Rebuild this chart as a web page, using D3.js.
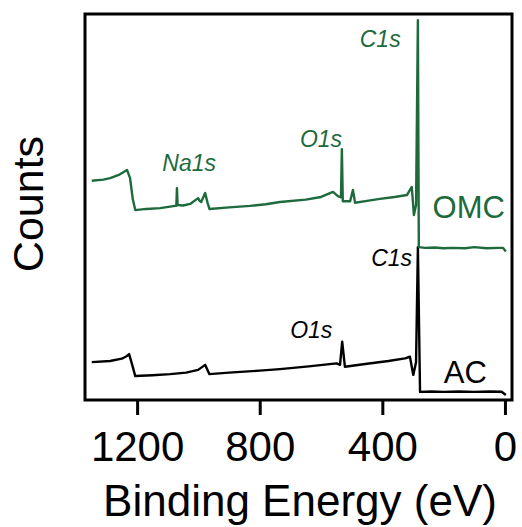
<!DOCTYPE html>
<html>
<head>
<meta charset="utf-8">
<title>XPS survey</title>
<script src="https://d3js.org/d3.v7.min.js"></script>
<style>
  body { margin: 0; background: #fff; }
  text { font-family: 'Liberation Sans', Arial, sans-serif; }
  .lbl { font-style: italic; font-size: 23px; }
</style>
</head>
<body>
<div id="chart"></div>
<script>
// binding energy (eV) and counts (arb. units)
var omcEnergy = [1348, 1310, 1288, 1260, 1233, 1223, 1214, 1206, 1170, 1125, 1076, 1072, 1070, 1068, 1050, 1027, 1001, 996, 991, 978, 970, 964, 900, 831, 780, 734, 650, 600, 561, 545, 535, 532, 529, 522, 505, 496, 489, 450, 408, 360, 320, 304, 297, 290, 284, 281, 260, 230, 200, 170, 130, 100, 60, 20, 6, -3];
var omcCounts = [56.8, 57.1, 57.5, 58.3, 59.6, 57.5, 52.0, 49.2, 49.5, 49.7, 50.3, 50.3, 54.9, 50.5, 50.4, 50.8, 52.3, 51.6, 51.3, 53.6, 51.0, 49.5, 49.9, 50.3, 50.7, 51.3, 51.9, 52.6, 53.9, 52.8, 52.5, 65.0, 51.5, 51.5, 51.5, 54.4, 51.1, 51.6, 52.1, 52.6, 53.1, 55.2, 47.9, 50.5, 98.4, 39.6, 39.4, 39.5, 39.3, 39.4, 39.3, 39.6, 39.3, 39.4, 39.4, 38.5];

var acEnergy = [1348, 1288, 1250, 1233, 1226, 1216, 1206, 1150, 1092, 1040, 1001, 978, 964, 900, 800, 734, 640, 549, 538, 531, 522, 450, 380, 326, 310, 299, 290, 284, 277, 240, 200, 150, 100, 50, 11, -3];
var acCounts = [9.8, 10.1, 10.7, 11.4, 11.9, 9.1, 6.2, 6.4, 6.7, 7.1, 7.8, 9.1, 6.7, 7.1, 7.6, 8.0, 8.7, 9.5, 9.1, 15.1, 8.6, 9.4, 10.1, 10.8, 11.2, 6.5, 9.8, 39.6, 2.1, 2.2, 2.1, 2.2, 2.1, 2.2, 2.15, 1.3];

var xTicks = [1200, 800, 400, 0];

var width = 522, height = 527;
var box = { left: 85, right: 512, top: 14, bottom: 400 };
var green = "#1d6a3c";

var svg = d3.select("#chart").append("svg")
  .attr("width", width).attr("height", height);

var x = d3.scaleLinear().domain([1370, -23]).range([box.left, box.right]);
var y = d3.scaleLinear().domain([0, 100]).range([box.bottom, box.bottom - 386]);

// spectra
var line = d3.line()
  .x(function(d) { return x(d[0]); })
  .y(function(d) { return y(d[1]); });

svg.append("path")
  .datum(d3.zip(acEnergy, acCounts))
  .attr("d", line)
  .attr("fill", "none").attr("stroke", "#000")
  .attr("stroke-width", 2.4).attr("stroke-linejoin", "round");

svg.append("path")
  .datum(d3.zip(omcEnergy, omcCounts))
  .attr("d", line)
  .attr("fill", "none").attr("stroke", green)
  .attr("stroke-width", 2.4).attr("stroke-linejoin", "round");

// frame
svg.append("rect")
  .attr("x", box.left).attr("y", box.top)
  .attr("width", box.right - box.left).attr("height", box.bottom - box.top)
  .attr("fill", "none").attr("stroke", "#000").attr("stroke-width", 3);

// bottom axis
var xAxis = svg.append("g")
  .attr("transform", "translate(0," + box.bottom + ")")
  .call(d3.axisBottom(x).tickValues(xTicks).tickSize(15).tickPadding(16).tickFormat(d3.format("d")));
xAxis.select(".domain").remove();
xAxis.selectAll(".tick line").attr("stroke", "#000").attr("stroke-width", 3);
xAxis.selectAll(".tick text")
  .attr("font-family", "'Liberation Sans', Arial, sans-serif")
  .attr("font-size", 42).attr("fill", "#000");

svg.append("text")
  .attr("x", 300).attr("y", 516)
  .attr("text-anchor", "middle").attr("font-size", 44)
  .text("Binding Energy (eV)");

svg.append("text")
  .attr("transform", "translate(43,204) rotate(-90)")
  .attr("text-anchor", "middle").attr("font-size", 43)
  .text("Counts");

// peak labels
var labels = [
  { t: "C1s", e: 407, c: 91.5, col: green, a: "middle" },
  { t: "O1s", e: 600, c: 65.5, col: green, a: "middle" },
  { t: "Na1s", e: 1030, c: 59.3, col: green, a: "middle" },
  { t: "C1s", e: 303, c: 34.7, col: "#000", a: "end" },
  { t: "O1s", e: 632, c: 16.1, col: "#000", a: "middle" }
];
svg.selectAll(".lbl").data(labels).enter().append("text")
  .attr("class", "lbl")
  .attr("x", function(d) { return x(d.e); })
  .attr("y", function(d) { return y(d.c); })
  .attr("text-anchor", function(d) { return d.a; })
  .attr("fill", function(d) { return d.col; })
  .text(function(d) { return d.t; });

svg.append("text")
  .attr("x", x(0)).attr("y", y(47.2))
  .attr("text-anchor", "end").attr("font-size", 31).attr("fill", green)
  .text("OMC");
svg.append("text")
  .attr("x", x(59)).attr("y", y(4.4))
  .attr("text-anchor", "end").attr("font-size", 31).attr("fill", "#000")
  .text("AC");
</script>
</body>
</html>
